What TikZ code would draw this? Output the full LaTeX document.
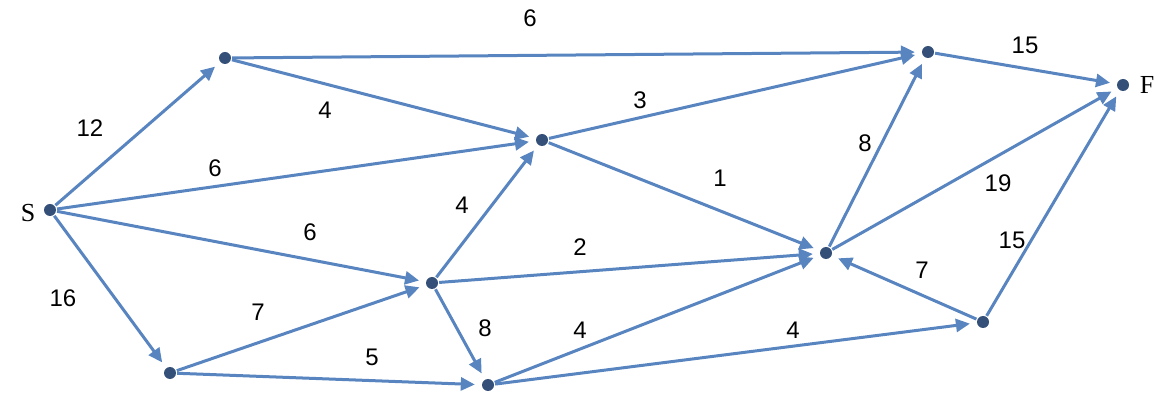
\documentclass[tikz,border=0pt]{standalone}
\usepackage{fontspec}
\setmainfont{Liberation Serif}
\newfontfamily\numfont{Liberation Sans}
\usetikzlibrary{arrows.meta}
\definecolor{edge}{RGB}{88,132,192}
\definecolor{dot}{RGB}{52,80,120}
\begin{document}
\begin{tikzpicture}[x=1pt,y=-1pt,
  v/.style={circle,fill=dot,inner sep=0pt,minimum size=12pt},
  e/.style={draw=edge,line width=3pt,-{Triangle[length=14pt,width=13pt]},shorten >=7pt,shorten <=1pt},
  w/.style={font=\numfont\fontsize{24}{24}\selectfont},
  lab/.style={font=\fontsize{26}{26}\selectfont}]
\useasboundingbox (0,0) rectangle (1170,419);
\node[v] (S) at (50,210) {};
\node[v] (A) at (225,58) {};
\node[v] (B) at (928,52) {};
\node[v] (F) at (1123,85) {};
\node[v] (C) at (542,140) {};
\node[v] (D) at (826,253) {};
\node[v] (E) at (432,283) {};
\node[v] (G) at (170,373) {};
\node[v] (H) at (488,385) {};
\node[v] (I) at (983,322) {};
\node[lab] (lS) at (28,213) {S};
\node[lab] (lF) at (1147,85) {F};
\draw[e] (S) -- (A);
\draw[e] (A) -- (B);
\draw[e] (A) -- (C);
\draw[e] (S) -- (C);
\draw[e] (S) -- (E);
\draw[e] (S) -- (G);
\draw[e] (G) -- (E);
\draw[e] (G) -- (H);
\draw[e] (E) -- (C);
\draw[e] (E) -- (D);
\draw[e] (E) -- (H);
\draw[e] (C) -- (B);
\draw[e] (C) -- (D);
\draw[e] (H) -- (D);
\draw[e] (H) -- (I);
\draw[e] (D) -- (B);
\draw[e] (D) -- (F);
\draw[e] (I) -- (D);
\draw[e] (I) -- (F);
\draw[e] (B) -- (F);
\node[w] (w1) at (90,128) {12};
\node[w] (w2) at (530,18) {6};
\node[w] (w3) at (325,110) {4};
\node[w] (w4) at (215,168) {6};
\node[w] (w5) at (310,232) {6};
\node[w] (w6) at (63,298) {16};
\node[w] (w7) at (258,312) {7};
\node[w] (w8) at (372,357) {5};
\node[w] (w9) at (462,205) {4};
\node[w] (w10) at (580,247) {2};
\node[w] (w11) at (485,328) {8};
\node[w] (w12) at (640,100) {3};
\node[w] (w13) at (720,178) {1};
\node[w] (w14) at (580,330) {4};
\node[w] (w15) at (793,330) {4};
\node[w] (w16) at (865,143) {8};
\node[w] (w17) at (998,183) {19};
\node[w] (w18) at (922,270) {7};
\node[w] (w19) at (1012,240) {15};
\node[w] (w20) at (1025,45) {15};
\end{tikzpicture}
\end{document}
